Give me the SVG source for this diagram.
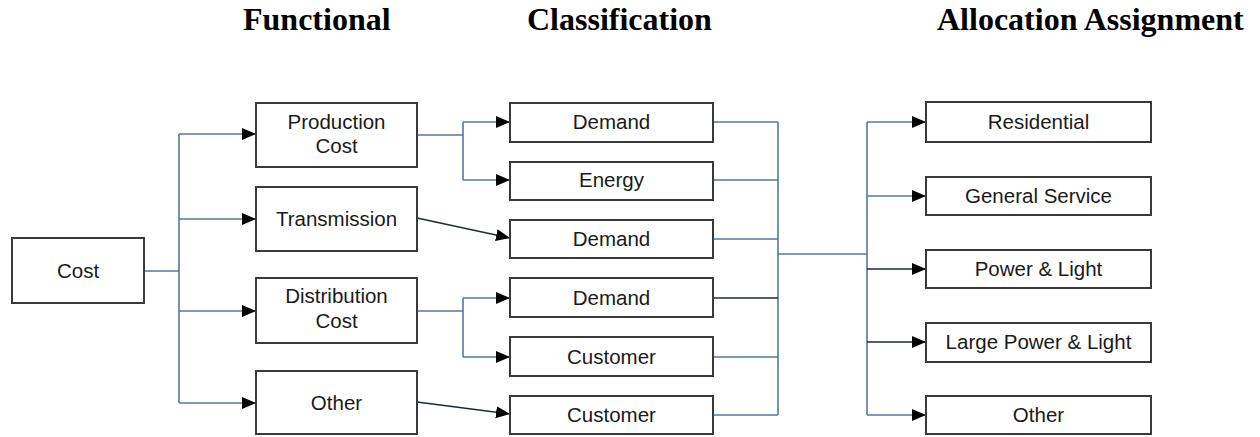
<svg xmlns="http://www.w3.org/2000/svg" width="1260" height="437" viewBox="0 0 1260 437">
  <style>
    .box { fill: #ffffff; stroke: #3a3a3a; stroke-width: 2; }
    .lbl { font-family: "Liberation Sans", Arial, sans-serif; font-size: 20.5px; fill: #1a1a1a; text-anchor: middle; }
    .hdr { font-family: "Liberation Serif", "Times New Roman", serif; font-size: 32px; font-weight: bold; fill: #000000; }
    .wire { fill: none; stroke: #56789f; stroke-width: 1.6; }
    .dark { fill: none; stroke: #1f2a38; stroke-width: 1.6; }
    .arrow { marker-end: url(#head); }
  </style>
  <defs>
    <marker id="head" markerUnits="userSpaceOnUse" markerWidth="16" markerHeight="14" refX="14" refY="6" orient="auto">
      <path d="M0,0 L14,6 L0,12 Z" fill="#000000"/>
    </marker>
  </defs>

  <rect width="1260" height="437" fill="#ffffff"/>

  <!-- column headings -->
  <g id="headings">
    <text class="hdr" x="243" y="30">Functional</text>
    <text class="hdr" x="527" y="30">Classification</text>
    <text class="hdr" x="937" y="30">Allocation Assignment</text>
  </g>

  <!-- connectors -->
  <g id="connectors">
    <!-- cost to functional groups -->
    <path class="wire" d="M144,271 H179 M179,134 V403"/>
    <path class="wire arrow" d="M179,134 H256"/>
    <path class="wire arrow" d="M179,219 H256"/>
    <path class="wire arrow" d="M179,311 H256"/>
    <path class="wire arrow" d="M179,403 H256"/>

    <!-- production cost split -->
    <path class="wire" d="M417,135 H463 M463,122 V180"/>
    <path class="wire arrow" d="M463,122 H510"/>
    <path class="wire arrow" d="M463,180 H510"/>

    <!-- transmission -->
    <path class="dark arrow" d="M417,218 L510,238"/>

    <!-- distribution cost split -->
    <path class="wire" d="M417,311 H463 M463,298 V357"/>
    <path class="wire arrow" d="M463,298 H510"/>
    <path class="wire arrow" d="M463,357 H510"/>

    <!-- other -->
    <path class="dark arrow" d="M417,402 L510,414"/>

    <!-- classification collector -->
    <path class="wire" d="M713,122 H778 M713,180 H778 M713,239 H778 M713,357 H778 M713,415 H778 M778,122 V415 M778,254 H867 M867,122 V415"/>
    <path class="dark" d="M713,298 H778"/>

    <!-- allocation fan-out -->
    <path class="wire arrow" d="M867,122 H926"/>
    <path class="wire arrow" d="M867,196 H926"/>
    <path class="dark arrow" d="M867,269 H926"/>
    <path class="dark arrow" d="M867,342 H926"/>
    <path class="wire arrow" d="M867,415 H926"/>
  </g>

  <!-- source -->
  <g id="cost">
    <rect class="box" x="12" y="238" width="132" height="65"/>
    <text class="lbl" x="78" y="278">Cost</text>
  </g>

  <!-- functional groups -->
  <g id="production-cost">
    <rect class="box" x="256" y="103" width="161" height="64"/>
    <text class="lbl" x="336.5" y="129">Production</text>
    <text class="lbl" x="336.5" y="153">Cost</text>
  </g>
  <g id="transmission">
    <rect class="box" x="256" y="187" width="161" height="64"/>
    <text class="lbl" x="336.5" y="226">Transmission</text>
  </g>
  <g id="distribution-cost">
    <rect class="box" x="256" y="278" width="161" height="65"/>
    <text class="lbl" x="336.5" y="303">Distribution</text>
    <text class="lbl" x="336.5" y="328">Cost</text>
  </g>
  <g id="other-cost">
    <rect class="box" x="256" y="371" width="161" height="63"/>
    <text class="lbl" x="336.5" y="410">Other</text>
  </g>

  <!-- classifications -->
  <g id="demand-production">
    <rect class="box" x="510" y="103" width="203" height="39"/>
    <text class="lbl" x="611.5" y="129">Demand</text>
  </g>
  <g id="energy">
    <rect class="box" x="510" y="162" width="203" height="38"/>
    <text class="lbl" x="611.5" y="187">Energy</text>
  </g>
  <g id="demand-transmission">
    <rect class="box" x="510" y="220" width="203" height="38"/>
    <text class="lbl" x="611.5" y="246">Demand</text>
  </g>
  <g id="demand-distribution">
    <rect class="box" x="510" y="278" width="203" height="39"/>
    <text class="lbl" x="611.5" y="305">Demand</text>
  </g>
  <g id="customer-distribution">
    <rect class="box" x="510" y="337" width="203" height="39"/>
    <text class="lbl" x="611.5" y="364">Customer</text>
  </g>
  <g id="customer-other">
    <rect class="box" x="510" y="396" width="203" height="38"/>
    <text class="lbl" x="611.5" y="422">Customer</text>
  </g>

  <!-- customer classes -->
  <g id="residential">
    <rect class="box" x="926" y="102" width="225" height="40"/>
    <text class="lbl" x="1038.5" y="129">Residential</text>
  </g>
  <g id="general-service">
    <rect class="box" x="926" y="177" width="225" height="38"/>
    <text class="lbl" x="1038.5" y="203">General Service</text>
  </g>
  <g id="power-light">
    <rect class="box" x="926" y="250" width="225" height="38"/>
    <text class="lbl" x="1038.5" y="276">Power &amp; Light</text>
  </g>
  <g id="large-power-light">
    <rect class="box" x="926" y="323" width="225" height="39"/>
    <text class="lbl" x="1038.5" y="349">Large Power &amp; Light</text>
  </g>
  <g id="other-class">
    <rect class="box" x="926" y="396" width="225" height="38"/>
    <text class="lbl" x="1038.5" y="422">Other</text>
  </g>
</svg>
